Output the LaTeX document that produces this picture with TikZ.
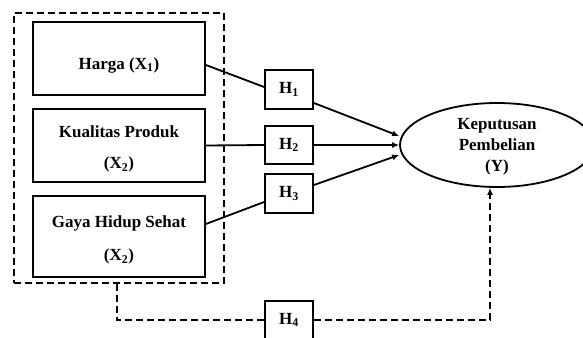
\documentclass[tikz,border=0pt]{standalone}
\usepackage{fontspec}
\setmainfont{Liberation Serif}
\usetikzlibrary{arrows.meta,shapes.geometric}
\begin{document}
\begin{tikzpicture}[x=1pt,y=-1pt,
  every node/.style={font=\fontsize{17}{21}\selectfont\bfseries, inner sep=0pt},
  varbox/.style={draw, line width=1.8pt, minimum width=172pt},
  label/.style={align=center},
  hbox/.style={draw, line width=1.8pt, minimum width=48pt, minimum height=38pt},
  link/.style={line width=1.8pt},
  arr/.style={link, -{Latex[length=7pt,width=6pt]}},
  dline/.style={line width=1.8pt, dash pattern=on 7pt off 4pt}]
\useasboundingbox (0,0) rectangle (583,337);

% group frame around the independent variables
\node[draw, dline, minimum width=210pt, minimum height=270pt] (grp) at (119,148) {};

% independent variables
\node[varbox, minimum height=73pt] (harga) at (119,58.5) {};
\node[varbox, minimum height=73pt] (kual) at (119,145.5) {};
\node[varbox, minimum height=81pt] (gaya) at (119,236.5) {};
\node[label] (hargaT) at (119,65) {Harga (X\textsubscript{1})};
\node[label] (kualT) at (119,149) {Kualitas Produk\\[10pt](X\textsubscript{2})};
\node[label] (gayaT) at (119,240) {Gaya Hidup Sehat\\[12pt](X\textsubscript{2})};

% hypothesis boxes
\node[hbox, minimum height=39pt] (h1) at (289,89.5) {H\textsubscript{1}};
\node[hbox] (h2) at (289,145) {H\textsubscript{2}};
\node[hbox, minimum height=39pt] (h3) at (289,193.5) {H\textsubscript{3}};
\node[hbox] (h4) at (289,320) {H\textsubscript{4}};

% dependent variable
\node[draw, ellipse, line width=1.8pt, minimum width=194pt, minimum height=84pt] (y) at (497,145) {};
\node[label] (yT) at (497,147) {Keputusan\\Pembelian\\(Y)};

% partial effects
\draw[link] ([yshift=-6.5pt]harga.east) -- ([yshift=2.5pt]h1.west);
\draw[arr] ([yshift=-13.5pt]h1.east) -- ([yshift=9pt]y.west);
\draw[link] (kual.east) -- (h2.west);
\draw[arr] (h2.east) -- (y.west);
\draw[link] ([yshift=12.5pt]gaya.east) -- ([yshift=-8.5pt]h3.west);
\draw[arr] ([yshift=8.5pt]h3.east) -- ([yshift=-10pt]y.west);

% simultaneous effect
\draw[dline] ([xshift=-2pt]grp.south) |- (h4.west);
\draw[dline, -{Latex[length=7pt,width=6pt]}] (h4.east) -| ([xshift=-7pt]y.south);
\end{tikzpicture}
\end{document}
